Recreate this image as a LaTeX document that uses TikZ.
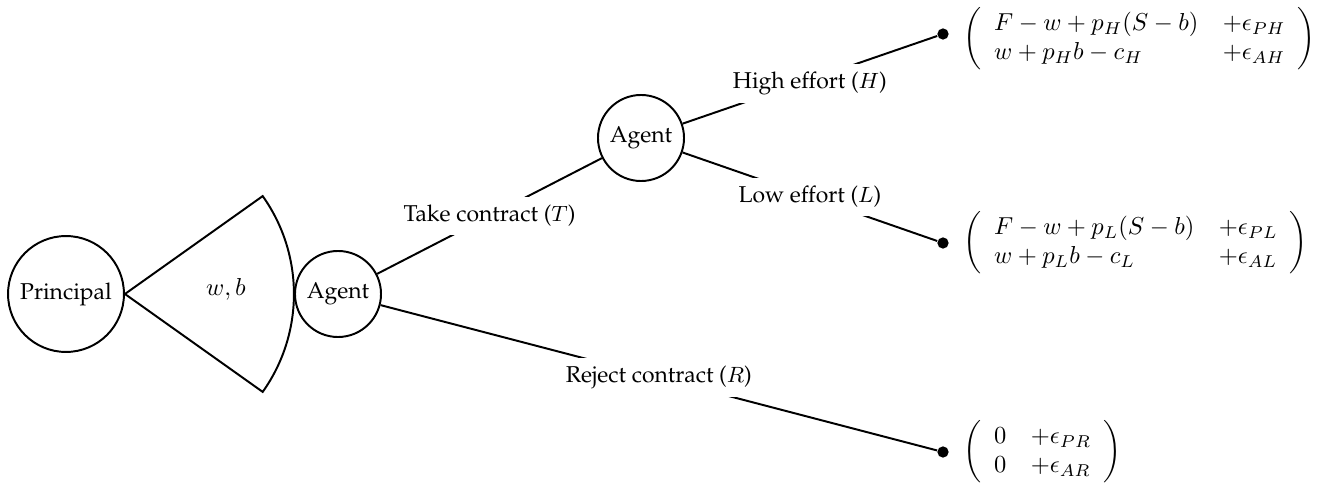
\documentclass[tikz,border=0pt]{standalone}
\usepackage[T1]{fontenc}
\usepackage{graphicx}
\renewcommand{\rmdefault}{ppl}
\usetikzlibrary{positioning}
\newcommand{\lpar}{\scalebox{1}[1.06]{$\biggl($}}
\newcommand{\rpar}{\scalebox{1}[1.06]{$\biggr)$}}
\begin{document}
\begin{tikzpicture}[x=0.408pt,y=0.408pt,
  txt/.style={font=\fontsize{9.35}{11}\selectfont},
  mth/.style={font=\fontsize{10}{12}\selectfont},
  player/.style={draw,circle,thick,inner sep=0pt,txt},
  dot/.style={circle,fill=black,inner sep=0pt,minimum size=4.6pt},
  lbl/.style={fill=white,txt},
  pay/.style={mth,inner sep=0pt},
  edge/.style={thick}
]
\useasboundingbox (0,0) rectangle (1330,483);
\node[player,minimum size=47.3pt] (P) at (66,189) {Principal};
\node[player,minimum size=35.1pt] (A1) at (338,189) {Agent};
\node[player,minimum size=35.1pt] (A2) at (641,345) {Agent};
\node[dot] (dH) at (943,449) {};
\node[dot] (dL) at (943,240) {};
\node[dot] (dR) at (943,31) {};
\draw[edge] (P.east) -- ++(35.4:169) arc[start angle=35.4,end angle=-35.4,radius=169] -- cycle;
\node[mth] (wb) at (226,194) {$w,b$};
\draw[edge] (A1) -- node[lbl]{Take contract ($T$)} (A2);
\draw[edge] (A1) -- node[lbl]{Reject contract ($R$)} (dR);
\draw[edge] (A2) -- node[lbl,yshift=-1.5pt]{High effort ($H$)} (dH);
\draw[edge] (A2) -- node[lbl]{Low effort ($L$)} (dL);
\node[pay,right=5.8pt of dH,yshift=-2pt] (mH) {$\lpar\begin{array}{ll} F-w+p_H(S-b) & +\epsilon_{PH}\\ w+p_Hb-c_H & +\epsilon_{AH}\end{array}\rpar$};
\node[pay,right=5.8pt of dL] (mL) {$\lpar\begin{array}{ll} F-w+p_L(S-b) & +\epsilon_{PL}\\ w+p_Lb-c_L & +\epsilon_{AL}\end{array}\rpar$};
\node[pay,right=5.8pt of dR] (mR) {$\lpar\begin{array}{ll} 0 & +\epsilon_{PR}\\ 0 & +\epsilon_{AR}\end{array}\rpar$};
\end{tikzpicture}
\end{document}
